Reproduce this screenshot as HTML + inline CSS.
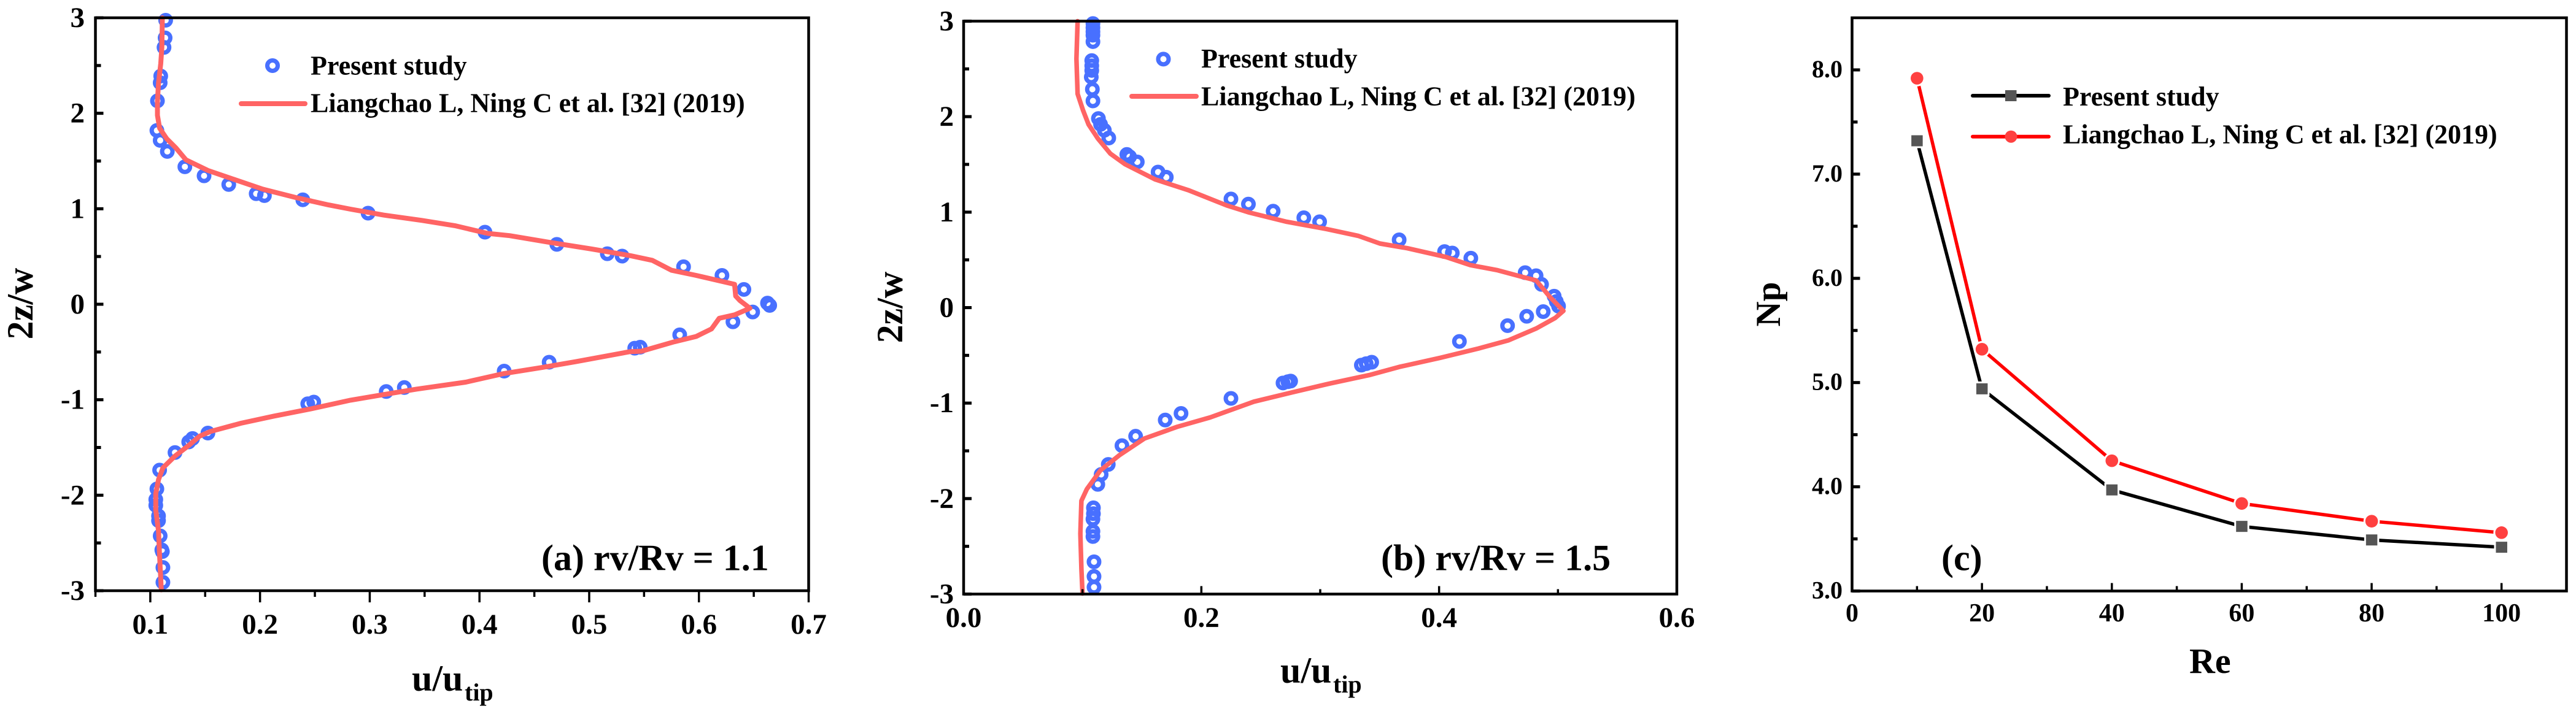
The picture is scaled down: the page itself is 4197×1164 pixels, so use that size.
<!DOCTYPE html>
<html>
<head>
<meta charset="utf-8">
<title>Velocity profiles and power number comparison</title>
<style>
html,body{margin:0;padding:0;background:#fff;}
svg{display:block;}
text{font-family:"Liberation Serif",serif;font-weight:bold;fill:#000;}
.legend{font-size:44px;}
.title{font-size:60px;}
.sub{font-size:40px;}
</style>
</head>
<body>
<svg id="chart" xmlns="http://www.w3.org/2000/svg" width="4197" height="1164" viewBox="0 0 4197 1164">
  <rect x="0" y="0" width="4197" height="1164" fill="#fff"/>
  <g id="panel-a"></g>
  <g id="panel-b"></g>
  <g id="panel-c"></g>

  <g>
    <text class="title" text-anchor="middle" transform="translate(53,495) rotate(-90)">2z/w</text>
    <text class="title" x="671" y="1126">u/u</text>
    <text class="sub" x="757" y="1142">tip</text>
    <text class="title" x="882" y="929.5">(a) rv/Rv = 1.1</text>
    <circle cx="444" cy="107" r="8.5" fill="none" stroke="#4870ff" stroke-width="7"/>
    <text class="legend" x="506" y="121.7">Present study</text>
    <line x1="393" y1="169" x2="497" y2="169" stroke="#ff6464" stroke-width="8" stroke-linecap="round"/>
    <text class="legend" x="506" y="182.5">Liangchao L, Ning C et al. [32] (2019)</text>
  </g>

  <g>
    <text class="title" text-anchor="middle" transform="translate(1470,501) rotate(-90)">2z/w</text>
    <text class="title" x="2086" y="1113">u/u</text>
    <text class="sub" x="2172" y="1129">tip</text>
    <text class="title" x="2250" y="929.5">(b) rv/Rv = 1.5</text>
    <circle cx="1895.5" cy="96.4" r="8.5" fill="none" stroke="#4870ff" stroke-width="7"/>
    <text class="legend" x="1957" y="110">Present study</text>
    <line x1="1844" y1="157" x2="1949" y2="157" stroke="#ff6464" stroke-width="8" stroke-linecap="round"/>
    <text class="legend" x="1957" y="171.5">Liangchao L, Ning C et al. [32] (2019)</text>
  </g>

  <g>
    <text class="title" text-anchor="middle" transform="translate(2900,496) rotate(-90)" style="font-size:57px">Np</text>
    <text class="title" x="3567" y="1097" style="font-size:58px">Re</text>
    <text class="title" x="3163" y="929.5">(c)</text>
    <line x1="3214" y1="156" x2="3338" y2="156" stroke="#000" stroke-width="6" stroke-linecap="round"/>
    <rect x="3267" y="147" width="18.5" height="18" fill="#555"/>
    <text class="legend" x="3361" y="172">Present study</text>
    <line x1="3214" y1="222.7" x2="3338" y2="222.7" stroke="#f00" stroke-width="6" stroke-linecap="round"/>
    <circle cx="3276.5" cy="222.7" r="10" fill="#ff4040"/>
    <text class="legend" x="3361" y="233.4">Liangchao L, Ning C et al. [32] (2019)</text>
  </g>
</svg>
<script>
// ---------- Panel (a) data ----------
const aPointsU = [.114,.1135,.1125,.1095,.109,.1065,.106,.109,.1155,.1315,.149,.1715,.1965,.204,.239,.2985,.405,.4705,.5165,.53,.586,.621,.641,.6625,.6645,.649,.631,.5825,.5465,.5415,.4635,.4225,.3315,.315,.249,.2435,.1525,.1385,.135,.1225,.1085,.106,.105,.105,.1075,.1075,.109,.1105,.111,.1115,.1115];
const aPointsZ = [2.974,2.79,2.69,2.39,2.32,2.13,1.82,1.716,1.6,1.44,1.345,1.254,1.158,1.138,1.094,.954,.755,.627,.529,.504,.393,.302,.155,.012,-.012,-.081,-.184,-.32,-.45,-.46,-.607,-.7,-.872,-.914,-1.025,-1.042,-1.349,-1.406,-1.442,-1.553,-1.737,-1.934,-2.045,-2.106,-2.217,-2.266,-2.426,-2.573,-2.59,-2.757,-2.912];
const aCurveU = [.111,.1105,.1095,.1075,.1065,.1065,.1085,.115,.1235,.1325,.1525,.1775,.2025,.2325,.2625,.2825,.3125,.3475,.3775,.4075,.4275,.4625,.5025,.5375,.5575,.575,.5975,.6325,.6335,.6375,.6465,.6325,.6185,.6115,.5975,.5775,.5475,.5375,.4875,.4575,.4225,.3875,.3425,.3125,.2825,.2475,.2125,.1825,.155,.145,.135,.1225,.1115,.1075,.105,.105,.1075,.1085,.11];
const aCurveZ = [3,2.69,2.52,2.32,2.126,1.979,1.844,1.733,1.635,1.512,1.401,1.303,1.205,1.118,1.04,.996,.934,.878,.823,.742,.718,.651,.578,.509,.46,.356,.302,.209,.086,.037,-.042,-.111,-.147,-.258,-.337,-.393,-.492,-.496,-.602,-.661,-.725,-.816,-.889,-.946,-1.005,-1.093,-1.172,-1.246,-1.332,-1.381,-1.479,-1.59,-1.713,-1.836,-1.983,-2.155,-2.377,-2.647,-2.991];
const aXTicks = [0.1,0.2,0.3,0.4,0.5,0.6,0.7];
const aXTickLabels = ["0.1","0.2","0.3","0.4","0.5","0.6","0.7"];
const aXMinor = [0.05,0.15,0.25,0.35,0.45,0.55,0.65];

// ---------- Panel (b) data ----------
const bPointsU = [.1088,.1088,.1088,.1088,.1088,.1078,.1078,.1078,.1074,.1083,.1088,.1134,.1152,.1184,.1221,.1373,.1396,.1461,.1636,.1705,.2249,.2396,.2604,.2862,.2995,.3664,.4046,.4111,.4267,.4724,.4816,.4862,.4968,.4986,.5005,.4876,.4737,.4576,.4171,.3433,.3387,.3346,.2751,.2728,.2687,.2249,.1829,.1696,.1447,.1332,.1217,.1157,.1129,.1092,.1092,.1088,.1088,.1088,.1097,.1097,.1097];
const bPointsZ = [2.975,2.931,2.889,2.853,2.786,2.587,2.533,2.484,2.415,2.287,2.165,1.98,1.919,1.857,1.776,1.604,1.58,1.526,1.42,1.366,1.138,1.084,1.01,.941,.899,.71,.587,.572,.518,.366,.334,.243,.12,.064,.015,-.042,-.091,-.189,-.354,-.572,-.587,-.602,-.769,-.776,-.789,-.951,-1.108,-1.177,-1.347,-1.445,-1.642,-1.747,-1.851,-2.097,-2.158,-2.215,-2.343,-2.397,-2.662,-2.815,-2.928];
const bCurveU = [.0959,.0949,.0959,.1005,.1051,.1129,.1235,.1359,.1613,.1889,.2212,.2396,.2719,.3041,.3318,.3502,.3733,.4055,.4263,.4493,.47,.4816,.4931,.5046,.4977,.4816,.4585,.4332,.4009,.3664,.341,.3088,.2765,.2442,.2074,.1797,.1521,.1313,.1152,.1037,.0991,.0982,.0991,.1];
const bCurveZ = [3,2.607,2.238,2.066,1.919,1.772,1.612,1.501,1.342,1.231,1.071,.998,.899,.826,.752,.671,.622,.531,.445,.391,.322,.285,.113,-.034,-.108,-.219,-.342,-.428,-.526,-.621,-.707,-.793,-.887,-.985,-1.15,-1.248,-1.371,-1.543,-1.703,-1.9,-2.023,-2.367,-2.736,-2.994];
const bXTicks = [0.0,0.2,0.4,0.6];
const bXTickLabels = ["0.0","0.2","0.4","0.6"];
const bXMinor = [0.1,0.3,0.5];

// ---------- Shared profile axis data ----------
const zTicks = [3,2,1,0,-1,-2,-3];
const zTickLabels = ["3","2","1","0","-1","-2","-3"];
const zMinor = [2.5,1.5,0.5,-0.5,-1.5,-2.5];

// ---------- Panel (c) data ----------
const reValues = [10,20,40,60,80,100];
const npPresent = [7.32,4.94,3.97,3.62,3.49,3.42];
const npReference = [7.92,5.32,4.25,3.84,3.67,3.56];
const cXTicks = [0,20,40,60,80,100];
const cXTickLabels = ["0","20","40","60","80","100"];
const cXMinor = [10,30,50,70,90];
const cYTicks = [3,4,5,6,7,8];
const cYTickLabels = ["3.0","4.0","5.0","6.0","7.0","8.0"];
const cYMinor = [3.5,4.5,5.5,6.5,7.5];

const NS = "http://www.w3.org/2000/svg";
function mk(tag, parent, attrs) {
  const el = document.createElementNS(NS, tag);
  for (const k in attrs) el.setAttribute(k, attrs[k]);
  parent.appendChild(el);
  return el;
}
function linear(d0, d1, r0, r1) {
  return v => r0 + (v - d0) / (d1 - d0) * (r1 - r0);
}
function drawAxes(g, o) {
  const sx = o.sx, sy = o.sy, sw = 4.5;
  o.yTicks.forEach((v, i) => {
    const t = mk("line", g, {x1:o.left, x2:o.left + 13, y1:sy(v), y2:sy(v), stroke:"#000", "stroke-width":5});
    
    
    const l = mk("text", g, {x:o.yLabelRight, y:sy(v) + o.yLabelDy, "text-anchor":"end", "font-size":o.yFont});
    
    
    l.textContent = o.yLabels[i];
  });
  o.yMinor.forEach(v => {
    const t = mk("line", g, {x1:o.left, x2:o.left + 9, y1:sy(v), y2:sy(v), stroke:"#000", "stroke-width":5});
    
    
  });
  const dir = o.xOutward ? 1 : -1;
  const majorLen = o.xOutward ? 19 : 13;
  const minorLen = o.xOutward ? 10 : 8;
  o.xTicks.forEach((v, i) => {
    const t = mk("line", g, {x1:sx(v), x2:sx(v), y1:o.bottom, y2:o.bottom + dir * majorLen, stroke:"#000", "stroke-width":3.5});
    
    
    const l = mk("text", g, {x:sx(v), y:o.xLabelY, "text-anchor":"middle", "font-size":o.xFont});
    
    
    l.textContent = o.xLabels[i];
  });
  o.xMinor.forEach(v => {
    const t = mk("line", g, {x1:sx(v), x2:sx(v), y1:o.bottom, y2:o.bottom + dir * minorLen, stroke:"#000", "stroke-width":3.5});
    
    
  });
  const frame = mk("rect", g, {x:o.left, y:o.top, width:o.right - o.left, height:o.bottom - o.top, fill:"none", stroke:"#000", "stroke-width":sw});
  
  
}
function drawProfile(g, sx, sy, pu, pz, cu, cz, lineW) {
  pu.forEach((u, i) => {
    const c = mk("circle", g, {cx:sx(u), cy:sy(pz[i]), r:8.5, fill:"none", stroke:"#4870ff", "stroke-width":7});
    
    
  });
  const d = cu.map((u, i) => (i ? "L" : "M") + sx(u).toFixed(1) + " " + sy(cz[i]).toFixed(1)).join("");
  const p = mk("path", g, {d:d, fill:"none", stroke:"#ff6464", "stroke-width":lineW, "stroke-linejoin":"round", "stroke-linecap":"round"});
  
  
}

// Panel (a)
(function () {
  const g = document.getElementById("panel-a");
  const box = {left:155.5, right:1317.5, top:29, bottom:963};
  const sx = linear(0.05, 0.7, box.left, box.right), sy = linear(-3, 3, box.bottom, box.top);
  drawProfile(g, sx, sy, aPointsU, aPointsZ, aCurveU, aCurveZ, 8);
  drawAxes(g, Object.assign({}, box, {sx, sy, yTicks:zTicks, yLabels:zTickLabels, yMinor:zMinor, yLabelRight:138, yLabelDy:15, yFont:47,
    xTicks:aXTicks, xLabels:aXTickLabels, xMinor:aXMinor, xLabelY:1033, xFont:47, xOutward:true}));
})();

// Panel (b)
(function () {
  const g = document.getElementById("panel-b");
  const box = {left:1570, right:2732, top:34.5, bottom:968.5};
  const sx = linear(0, 0.6, box.left, box.right), sy = linear(-3, 3, box.bottom, box.top);
  drawProfile(g, sx, sy, bPointsU, bPointsZ, bCurveU, bCurveZ, 7.5);
  drawAxes(g, Object.assign({}, box, {sx, sy, yTicks:zTicks, yLabels:zTickLabels, yMinor:zMinor, yLabelRight:1554, yLabelDy:15, yFont:47,
    xTicks:bXTicks, xLabels:bXTickLabels, xMinor:bXMinor, xLabelY:1022, xFont:47, xOutward:false}));
})();

// Panel (c)
(function () {
  const g = document.getElementById("panel-c");
  const box = {left:3017.5, right:4181.5, top:29, bottom:963.5};
  const sx = linear(0, 110, box.left, box.right), sy = linear(3, 8.5, box.bottom, box.top);
  const pts = vals => vals.map((v, i) => sx(reValues[i]).toFixed(1) + "," + sy(v).toFixed(1)).join(" ");
  const present = mk("polyline", g, {points:pts(npPresent), fill:"none", stroke:"#000", "stroke-width":5.5});
  
  
  const reference = mk("polyline", g, {points:pts(npReference), fill:"none", stroke:"#f00", "stroke-width":5.5});
  
  
  npPresent.forEach((v, i) => {
    const m = mk("rect", g, {x:sx(reValues[i]) - 9.2, y:sy(v) - 9, width:18.5, height:18, fill:"#555", stroke:"#fff", "stroke-width":6, "paint-order":"stroke"});
    
    
  });
  npReference.forEach((v, i) => {
    const m = mk("circle", g, {cx:sx(reValues[i]), cy:sy(v), r:10.3, fill:"#ff4040", stroke:"#fff", "stroke-width":6, "paint-order":"stroke"});
    
    
  });
  drawAxes(g, Object.assign({}, box, {sx, sy, yTicks:cYTicks, yLabels:cYTickLabels, yMinor:cYMinor, yLabelRight:3002, yLabelDy:12, yFont:40,
    xTicks:cXTicks, xLabels:cXTickLabels, xMinor:cXMinor, xLabelY:1013, xFont:42, xOutward:false}));
})();
</script>
</body>
</html>
